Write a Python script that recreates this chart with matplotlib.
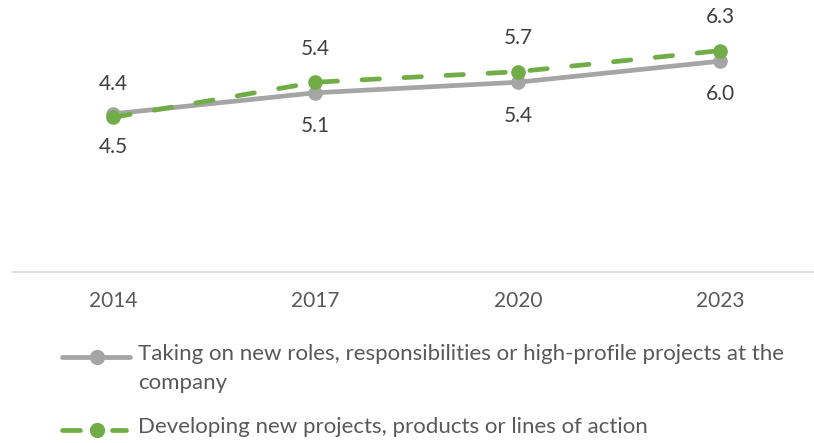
import matplotlib.pyplot as plt
from matplotlib.lines import Line2D

# Survey years and average scores per activity
years = ["2014", "2017", "2020", "2023"]
rolesScores = [4.5, 5.1, 5.4, 6.0]
projectsScores = [4.4, 5.4, 5.7, 6.3]
rolesLabel = "Taking on new roles, responsibilities or high-profile projects at the\ncompany"
projectsLabel = "Developing new projects, products or lines of action"

grey = "#a5a5a5"
green = "#70ad47"
textColor = "#404040"
legendColor = "#595959"
plt.rcParams['font.family'] = ['Lato', 'DejaVu Sans']

fig = plt.figure(figsize=(8.14, 4.43), dpi=100)
ax = fig.add_axes([11.7 / 814, 1 - 272 / 443, 810 / 814, 246 / 443])
x = range(len(years))

ax.plot(x, rolesScores, color=grey, lw=3.4, marker="o", ms=9.5, solid_capstyle="round")
ax.plot(x, projectsScores, color=green, lw=3.4, marker="o", ms=9.5,
        linestyle=(0, (3.7, 5.2)), dash_capstyle="round")

# value labels: green series above, grey series below
for i in x:
    ax.annotate(f"{projectsScores[i]:.1f}", (i, projectsScores[i]), xytext=(0, 24),
                textcoords="offset points", ha="center", va="center", fontsize=15, color=textColor)
    ax.annotate(f"{rolesScores[i]:.1f}", (i, rolesScores[i]), xytext=(0, -24),
                textcoords="offset points", ha="center", va="center", fontsize=15, color=textColor)

ax.set_xlim(-0.5, 3.5)
ax.set_ylim(0, 7)
ax.set_xticks(list(x))
ax.set_xticklabels(years, fontsize=15, color=legendColor)
ax.tick_params(axis="x", length=0, pad=14)
ax.set_yticks([])
for side in ["top", "left", "right"]:
    ax.spines[side].set_visible(False)
ax.spines["bottom"].set_color("#d9d9d9")
ax.spines["bottom"].set_linewidth(1.2)

# legend drawn by hand so the handle sits on the first text line
def legendEntry(yPix, color, segments, label):
    y = 1 - yPix / 443
    for x0, x1 in segments:
        fig.add_artist(Line2D([x0 / 814, x1 / 814], [y, y], color=color, lw=3.4,
                              solid_capstyle="round"))
    fig.add_artist(Line2D([97 / 814], [y], color=color, marker="o", ms=10))
    fig.text(138 / 814, y + 13 / 443, label, fontsize=16, color=legendColor, va="top",
             linespacing=1.55)

legendEntry(357, grey, [(62, 130)], rolesLabel)
legendEntry(430, green, [(62, 80), (112, 126)], projectsLabel)

fig.savefig("out.png", dpi=100)
